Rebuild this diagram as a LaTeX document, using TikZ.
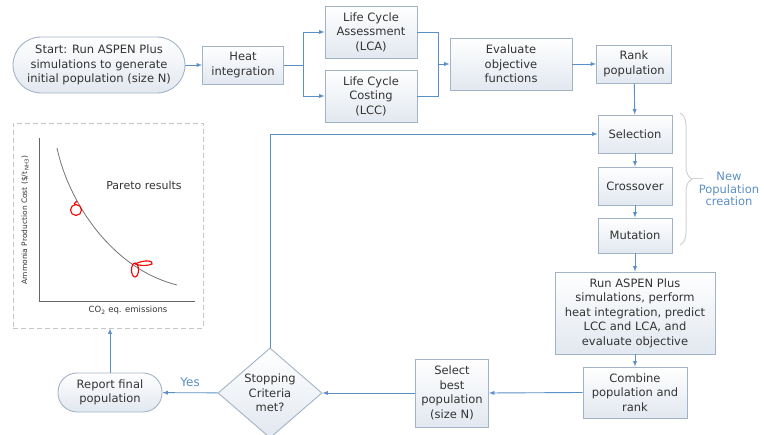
\documentclass[tikz,border=0pt]{standalone}
\usepackage{fontspec}
\setmainfont{DejaVu Sans}
\usepackage{tikz}
\usetikzlibrary{arrows,%
	shapes.geometric,%
	decorations.pathreplacing}
\definecolor{boxline}{HTML}{A3B3C6}
\definecolor{boxfill}{HTML}{E2E8F0}
\definecolor{flow}{HTML}{5B8FC6}
\definecolor{txt}{HTML}{333333}

\begin{document}
\begin{tikzpicture}[x=1pt,y=-1pt,
	box node/.style={rectangle,draw=boxline,line width=0.9pt,top color=white,bottom color=boxfill,align=center,inner sep=1pt,text=txt,font=\fontsize{11.5}{14.5}\selectfont},
	end node/.style={box node,rounded corners=19pt},
	flow line/.style={draw=flow,line width=0.9pt},
	flow arrow/.style={flow line,-latex},
	blue label/.style={text=flow,font=\fontsize{12}{14.5}\selectfont}]
		\useasboundingbox (0,0) rectangle (764,435);
		\node[end node,rounded corners=28pt,minimum width=172pt,minimum height=56pt] (1) at (99,65) {Start: Run ASPEN Plus\\simulations to generate\\initial population (size N)};
		\node[box node,minimum width=81pt,minimum height=38pt] (2) at (243,65) {Heat\\integration};
		\node[box node,minimum width=92pt,minimum height=52pt] (3) at (371,32) {Life Cycle\\Assessment\\(LCA)};
		\node[box node,minimum width=92pt,minimum height=52pt] (4) at (371,96) {Life Cycle\\Costing\\(LCC)};
		\node[box node,minimum width=122pt,minimum height=52pt] (5) at (511,64) {Evaluate\\objective\\functions};
		\node[box node,minimum width=75pt,minimum height=38pt] (6) at (634,64) {Rank\\population};
		\node[box node,minimum width=74pt,minimum height=38pt] (7) at (635,134) {Selection};
		\node[box node,minimum width=74pt,minimum height=38pt] (8) at (635,186) {Crossover};
		\node[box node,minimum width=74pt,minimum height=35pt] (9) at (635,235.5) {Mutation};
		\node[box node,minimum width=160pt,minimum height=82pt] (10) at (635,313) {Run ASPEN Plus\\simulations, perform\\heat integration, predict\\LCC and LCA, and\\evaluate objective};
		\node[box node,minimum width=104pt,minimum height=51pt] (11) at (635,392.5) {Combine\\population and\\rank};
		\node[box node,minimum width=73pt,minimum height=68pt] (12) at (452,393) {Select\\best\\population\\(size N)};
		\node[box node,diamond,minimum width=104pt,minimum height=90pt,inner sep=0pt] (13) at (270,393) {Stopping\\Criteria\\met?};
		\node[end node,minimum width=104pt,minimum height=39pt] (14) at (110,392.5) {Report final\\population};
		\node[draw=gray!45,line width=0.9pt,dash pattern=on 5pt off 3pt,minimum width=190pt,minimum height=205pt] (15) at (108,225.5) {};
		% Pareto plot
		\draw[gray!80!black,line width=0.8pt] (39,138) -- (39,301) -- (195,301);
		\draw[gray!90!black,line width=0.8pt] (57,148) .. controls (68,200) and (110,268) .. (177,285);
		\node[rotate=90,text=txt,font=\fontsize{7.5}{9}\selectfont] (16) at (25,220) {Ammonia Production Cost (\$/t\,\textsubscript{NH3})};
		\node[text=txt,font=\fontsize{8.5}{10}\selectfont] (17) at (128,310) {CO\textsubscript{2} eq. emissions};
		\node[text=txt,font=\fontsize{11}{13}\selectfont] (18) at (144,185) {Pareto results};
		\draw[red,line width=1.1pt] (76,210) circle (5.5pt) (74,204) -- (77,201);
		\draw[red,line width=1.1pt] (135,270) ellipse (3.5pt and 7pt)
		 (135,264) .. controls (145,259) and (154,261) .. (152,264) .. controls (148,266) and (140,266) .. (135,264);
		% flow
		\path[every node/.style={blue label}]
		(1) edge[flow arrow] (2)
		(5) edge[flow arrow] (6)
		(6) edge[flow arrow] (7)
		(7) edge[flow arrow] (8)
		(8) edge[flow arrow] (9)
		(9) edge[flow arrow] (10)
		(10) edge[flow arrow] (11)
		(11.west) edge[flow arrow] (12.east)
		(12) edge[flow arrow] (13)
		(13) edge[flow arrow] node[above=2pt] (19) {Yes} (14)
		(14.north) edge[flow arrow] (14.north |- 15.south)
		(13.north) edge[flow arrow,to path={|- (\tikztotarget)}] node[pos=0.05,right=8pt] (20) {No} (7.west);
		\coordinate (a) at (303,65);
		\coordinate (b) at (438,64);
		\draw[flow line] (2.east) -- (a);
		\draw[flow arrow] (a) |- (3.west);
		\draw[flow arrow] (a) |- (4.west);
		\draw[flow line] (3.east) -| (b);
		\draw[flow line] (4.east) -| (b);
		\draw[flow arrow] (b) -- (5.west);
		% new population brace
		\draw[gray!35,line width=1pt,decorate,decoration={brace,amplitude=12pt}] (680,113) -- (680,245);
		\draw[gray!35,line width=1pt] (692,179) -- (703,179);
		\node[blue label,align=center,font=\fontsize{11.5}{12.5}\selectfont] (21) at (729,189) {New\\Population\\creation};
\end{tikzpicture}
\end{document}
